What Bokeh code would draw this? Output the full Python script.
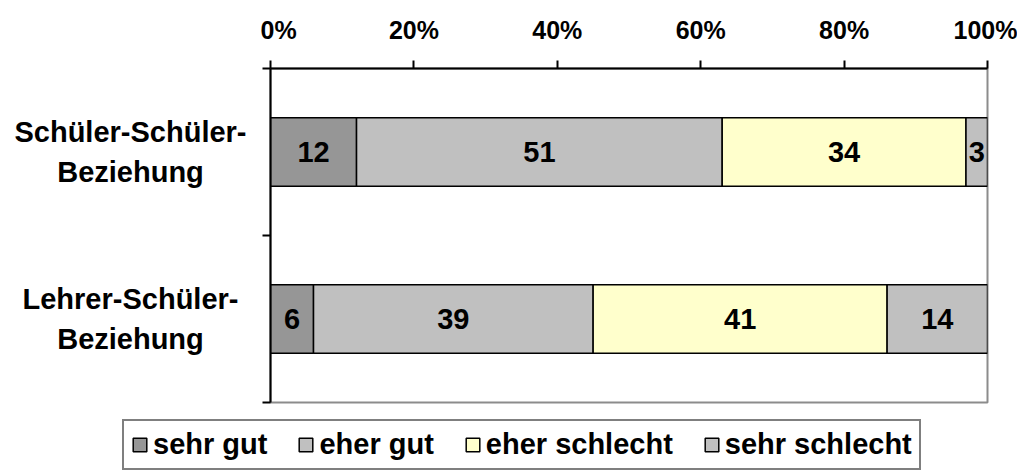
from bokeh.plotting import figure
from bokeh.layouts import column, row
from bokeh.models import (ColumnDataSource, Range1d, FixedTicker, Legend, LegendItem)
from bokeh.embed import file_html
from bokeh.resources import INLINE
from bokeh.core.properties import value

categories = ["Lehrer-Schüler-\nBeziehung", "Schüler-Schüler-\nBeziehung"]
series = ["sehr gut", "eher gut", "eher schlecht", "sehr schlecht"]
sehr_gut = [6, 12]
eher_gut = [39, 51]
eher_schlecht = [41, 34]
sehr_schlecht = [14, 3]
colors = ["#969696", "#C0C0C0", "#FFFFCC", "#C0C0C0"]
x_ticks = [0, 20, 40, 60, 80, 100]

FONT = "Liberation Sans"

ypos = [i + 0.5 for i in range(len(categories))]
data = dict(y=ypos, cat=categories)
cols = [sehr_gut, eher_gut, eher_schlecht, sehr_schlecht]
for name, vals in zip(series, cols):
    data[name] = vals
src = ColumnDataSource(data)

FRAME_H = 334
TOP = 68

p = figure(frame_width=717, frame_height=FRAME_H, output_backend="svg", toolbar_location=None,
           x_range=Range1d(0, 100), y_range=Range1d(0, 2),
           x_axis_location="above",
           min_border_left=10, min_border_right=30, min_border_top=TOP, min_border_bottom=2)
p.background_fill_color = "white"
p.border_fill_color = "white"
p.outline_line_color = "#8C8C8C"
p.outline_line_width = 2
p.xgrid.visible = False
p.ygrid.visible = False

renderers = p.hbar_stack(series, y="y", height=0.41, color=colors, source=src,
                         line_color="black", line_width=1.5)

# value labels
lx, ly, lt = [], [], []
for i in range(len(categories)):
    cum = 0
    for vals in cols:
        v = vals[i]
        lx.append(cum + v / 2)
        ly.append(ypos[i])
        lt.append(str(v))
        cum += v
p.text(x=lx, y=ly, text=lt, text_align="center", text_baseline="middle",
       text_font=value(FONT), text_font_style="bold", text_font_size="29px", text_color="black")

# x axis (top)
xa = p.xaxis[0]
xa.ticker = FixedTicker(ticks=x_ticks)
xa.major_label_overrides = {t: f"{t}%" for t in x_ticks}
xa.major_label_text_font = FONT
xa.major_label_text_font_style = "bold"
xa.major_label_text_font_size = "25px"
xa.major_label_text_color = "black"
xa.major_label_standoff = 17
xa.major_tick_in = 0
xa.major_tick_out = 8
xa.minor_tick_line_color = None
xa.axis_line_width = 2
xa.major_tick_line_width = 2
xa.axis_line_color = "black"
xa.major_tick_line_color = "black"

# y axis (left): only ticks at category boundaries (as minor ticks), no labels
ya = p.yaxis[0]
ya.ticker = FixedTicker(ticks=[], minor_ticks=[0, 1, 2])
ya.major_label_standoff = 0
ya.major_tick_in = 0
ya.major_tick_out = 0
ya.minor_tick_in = 0
ya.minor_tick_out = 8
ya.axis_line_width = 2
ya.minor_tick_line_width = 2
ya.axis_line_color = "black"
ya.minor_tick_line_color = "black"

# category labels in a strip on the left sharing the y range
lf = figure(frame_width=260, frame_height=FRAME_H, output_backend="svg", toolbar_location=None,
            x_range=Range1d(0, 260), y_range=p.y_range,
            min_border_left=0, min_border_right=0, min_border_top=TOP, min_border_bottom=2)
lf.axis.visible = False
lf.grid.visible = False
lf.outline_line_color = None
lf.background_fill_color = "white"
lf.border_fill_color = "white"
lf.text(x=130, y="y", text="cat", source=src,
        text_align="center", text_baseline="middle",
        text_font=value(FONT), text_font_style="bold", text_font_size="29px",
        text_line_height=1.25, text_color="black")

# legend in its own strip below
lg = figure(frame_width=1017, frame_height=68, output_backend="svg", toolbar_location=None,
            x_range=Range1d(0, 1), y_range=Range1d(0, 1),
            min_border_left=0, min_border_right=0, min_border_top=0, min_border_bottom=0)
lg.axis.visible = False
lg.grid.visible = False
lg.outline_line_color = None
lg.background_fill_color = "white"
lg.border_fill_color = "white"
dummies = [lg.hbar(y=[-5], left=[0], right=[0], height=0.5, fill_color=c,
                   line_color="black", line_width=1.5)
           for c in colors]
legend = Legend(items=[LegendItem(label=s, renderers=[r]) for s, r in zip(series, dummies)],
                orientation="horizontal", location=(122, 2),
                label_text_font=FONT, label_text_font_style="bold", label_text_font_size="29px",
                label_text_color="black",
                glyph_width=17, glyph_height=17, label_standoff=5, spacing=30,
                padding=7, margin=0,
                border_line_color="black", border_line_width=2,
                background_fill_color="white", background_fill_alpha=1)
lg.add_layout(legend)

layout = column(row(lf, p, spacing=0), lg, spacing=0)
open("out.html", "w").write(file_html(layout, INLINE))
